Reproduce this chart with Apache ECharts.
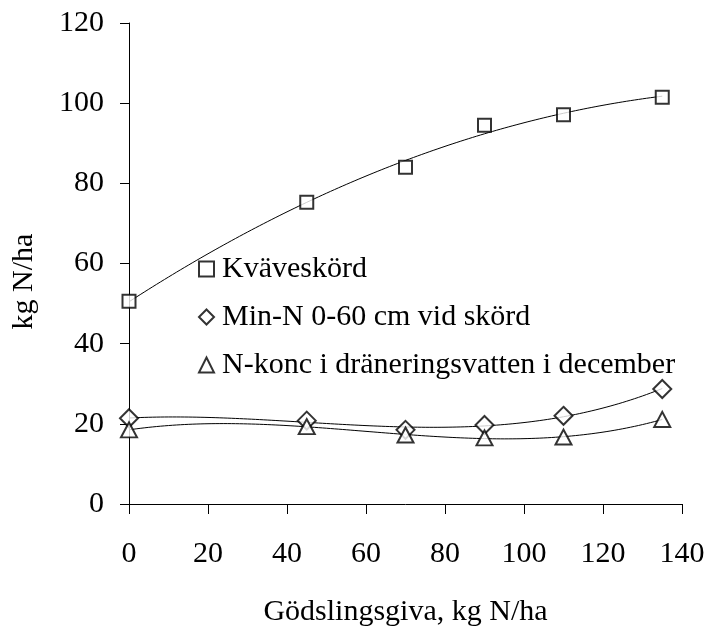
<!DOCTYPE html>
<html>
<head>
<meta charset="utf-8">
<script src="https://cdn.jsdelivr.net/npm/echarts@6/dist/echarts.min.js"></script>
<style>html,body{margin:0;padding:0;background:#fff}#c{width:710px;height:633px}</style>
</head>
<body>
<div id="c"></div>
<script>
const xVals = [0, 45, 70, 90, 110, 135];
const kvaveskord = [50.6, 75.3, 84, 94.5, 97.1, 101.5];
const minN = [21.4, 20.8, 18.5, 19.7, 22, 28.7];
const nKonc = [18.5, 19.3, 17.2, 16.5, 16.7, 21.1];
const seriesNames = ['Kväveskörd', 'Min-N 0-60 cm vid skörd', 'N-konc i dräneringsvatten i december'];
const xTicks = [0, 20, 40, 60, 80, 100, 120, 140];
const yTicks = [0, 20, 40, 60, 80, 100, 120];

// least-squares polynomial trendline (as Excel trendline) computed from the data
function polyfit(xs, ys, deg) {
  const n = deg + 1;
  const A = [];
  for (let i = 0; i < n; i++) {
    A.push(new Array(n + 1).fill(0));
  }
  for (let k = 0; k < xs.length; k++) {
    for (let i = 0; i < n; i++) {
      for (let j = 0; j < n; j++) A[i][j] += Math.pow(xs[k], i + j);
      A[i][n] += ys[k] * Math.pow(xs[k], i);
    }
  }
  for (let i = 0; i < n; i++) {
    let p = i;
    for (let r = i + 1; r < n; r++) if (Math.abs(A[r][i]) > Math.abs(A[p][i])) p = r;
    [A[i], A[p]] = [A[p], A[i]];
    for (let r = 0; r < n; r++) {
      if (r === i) continue;
      const f = A[r][i] / A[i][i];
      for (let c = i; c <= n; c++) A[r][c] -= f * A[i][c];
    }
  }
  return A.map((row, i) => row[n] / row[i]);
}
function trend(xs, ys, deg) {
  const c = polyfit(xs, ys, deg);
  const out = [];
  const x0 = Math.min(...xs), x1 = Math.max(...xs);
  for (let x = x0; x <= x1 + 1e-9; x += 1) {
    let y = 0;
    for (let i = 0; i < c.length; i++) y += c[i] * Math.pow(x, i);
    out.push([x, y]);
  }
  return out;
}
const pts = ys => xVals.map((x, i) => [x, ys[i]]);

const font = "'Liberation Serif', 'DejaVu Serif', serif";
const markerStyle = { color: '#fff', borderColor: '#000', borderWidth: 2 };
const chart = echarts.init(document.getElementById('c'), null, { renderer: 'canvas' });
chart.setOption({
  animation: false,
  backgroundColor: '#fff',
  textStyle: { fontFamily: font, color: '#000' },
  grid: { left: 129, right: 28, top: 23, bottom: 129, containLabel: false },
  legend: {
    orient: 'vertical', left: 193, top: 249, itemGap: 18, itemWidth: 15, itemHeight: 15,
    textStyle: { fontFamily: font, fontSize: 30, color: '#000', padding: [0, 0, 0, 3] },
    data: [
      { name: seriesNames[0], icon: 'rect' },
      { name: seriesNames[1], icon: 'diamond' },
      { name: seriesNames[2], icon: 'triangle' }
    ]
  },
  xAxis: {
    type: 'value', min: 0, max: 140, interval: 20,
    name: 'Gödslingsgiva, kg N/ha', nameLocation: 'middle', nameGap: 93,
    nameTextStyle: { fontFamily: font, fontSize: 30, color: '#000' },
    axisLine: { show: true, lineStyle: { color: '#000', width: 1 } },
    axisTick: { show: true, inside: false, length: 10, lineStyle: { color: '#000' } },
    axisLabel: { fontFamily: font, fontSize: 30, color: '#000', margin: 35 },
    splitLine: { show: false }
  },
  yAxis: {
    type: 'value', min: 0, max: 120, interval: 20,
    name: 'kg N/ha', nameLocation: 'middle', nameGap: 90, nameRotate: 90,
    nameTextStyle: { fontFamily: font, fontSize: 30, color: '#000', padding: [0, 36, 0, 0] },
    axisLine: { show: true, lineStyle: { color: '#000', width: 1 } },
    axisTick: { show: true, inside: false, length: 9, lineStyle: { color: '#000' } },
    axisLabel: { fontFamily: font, fontSize: 30, color: '#000', margin: 25 },
    splitLine: { show: false }
  },
  series: [
    { type: 'line', data: trend(xVals, kvaveskord, 2), showSymbol: false, symbol: 'none', lineStyle: { color: '#000', width: 1 }, silent: true, z: 1 },
    { type: 'line', data: trend(xVals, minN, 3), showSymbol: false, symbol: 'none', lineStyle: { color: '#000', width: 1 }, silent: true, z: 1 },
    { type: 'line', data: trend(xVals, nKonc, 3), showSymbol: false, symbol: 'none', lineStyle: { color: '#000', width: 1 }, silent: true, z: 1 },
    { name: seriesNames[0], type: 'scatter', symbol: 'rect', symbolSize: 13, data: pts(kvaveskord), itemStyle: markerStyle, z: 3 },
    { name: seriesNames[1], type: 'scatter', symbol: 'diamond', symbolSize: [18, 18], data: pts(minN), itemStyle: markerStyle, z: 3 },
    { name: seriesNames[2], type: 'scatter', symbol: 'triangle', symbolSize: [16, 15], data: pts(nKonc), itemStyle: markerStyle, z: 3 }
  ]
});
</script>
</body>
</html>
